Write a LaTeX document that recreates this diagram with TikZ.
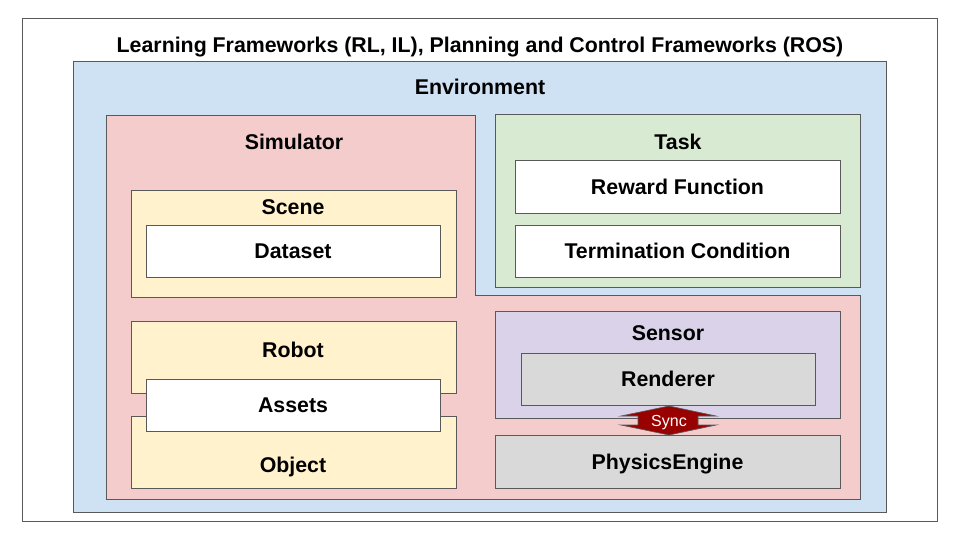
\documentclass[tikz,border=0pt]{standalone}
\usepackage{fontspec}
\setmainfont{Liberation Sans}
\usepackage{xcolor}
\usetikzlibrary{fit, positioning}

\definecolor{linegrey}{HTML}{595959}
\definecolor{envblue}{HTML}{CFE2F3}
\definecolor{simred}{HTML}{F4CCCC}
\definecolor{taskgreen}{HTML}{D9EAD3}
\definecolor{partyellow}{HTML}{FFF2CC}
\definecolor{sensorpurple}{HTML}{D9D2E9}
\definecolor{enginegrey}{HTML}{D9D9D9}
\definecolor{syncred}{HTML}{990000}

\begin{document}
\begin{tikzpicture}[x=0.75pt, y=-0.75pt, font=\fontsize{16}{18}\selectfont\bfseries]
	\tikzstyle{frame} = [draw=linegrey, line width=0.75pt]
	\tikzstyle{box} = [frame, inner sep=0pt, align=center]
	\tikzstyle{heading} = [draw=none, inner sep=0pt, text height=11.5pt, text depth=0pt]

	\useasboundingbox (0,0) rectangle (960,540);

	% containers
	\node[box, fill=white, fit={(22,18) (937,521)}]			(frameworks)	{};
	\node[box, fill=envblue, fit={(73,61) (886,512)}]		(env)		{};
	\draw[frame, fill=simred] (106,115) -- (475,115) -- (475,295) -- (860,295) -- (860,499) -- (106,499) -- cycle;
	\node[box, fill=taskgreen, fit={(495,114) (860,287)}]		(task)		{};
	\node[box, fill=partyellow, fit={(131,190) (456,297)}]		(scene)		{};
	\node[box, fill=partyellow, fit={(131,321) (456,393)}]		(robot)		{};
	\node[box, fill=partyellow, fit={(131,416) (456,488)}]		(object)	{};
	\node[box, fill=sensorpurple, fit={(495,311) (840,418)}]	(sensor)	{};

	% headings
	\node[heading]	at (480, 45)	(frameworkslabel)	{Learning Frameworks (RL, IL), Planning and Control Frameworks (ROS)};
	\node[heading]	at (480, 87)	(envlabel)		{Environment};
	\node[heading]	at (294, 142)	(simlabel)		{Simulator};
	\node[heading]	at (678, 142)	(tasklabel)		{Task};
	\node[heading]	at (293, 207)	(scenelabel)		{Scene};
	\node[heading]	at (293, 350)	(robotlabel)		{Robot};
	\node[heading]	at (293, 465)	(objectlabel)		{Object};
	\node[heading]	at (668, 333)	(sensorlabel)		{Sensor};

	% leaf boxes
	\node[box, fill=white, fit={(515,160) (840,213)}]		(reward)	{};
	\node[box, fill=white, fit={(515,225) (840,277)}]		(termination)	{};
	\node[box, fill=white, fit={(146,225) (440,277)}]		(dataset)	{};
	\node[box, fill=white, fit={(146,379) (440,431)}]		(assets)	{};
	\node[box, fill=enginegrey, fit={(521,353) (815,405)}]		(renderer)	{};
	\node[box, fill=enginegrey, fit={(495,435) (840,488)}]		(physics)	{};

	\node[heading]	at (reward)	(rewardlabel)		{Reward Function};
	\node[heading]	at (termination)	(terminationlabel)	{Termination Condition};
	\node[heading]	at (dataset)	(datasetlabel)		{Dataset};
	\node[heading]	at (assets)	(assetslabel)		{Assets};
	\node[heading]	at (renderer)	(rendererlabel)		{Renderer};
	\node[heading]	at (physics)	(physicslabel)		{PhysicsEngine};

	% sync arrow
	\draw[draw=linegrey, line width=0.5pt, fill=syncred]
		(621,416) -- (669,406) -- (716,416) -- (698,416) -- (698,425) -- (716,425)
		-- (669,435) -- (621,425) -- (638,425) -- (638,416) -- cycle;
	\node[heading, text=white, text height=8.6pt, font=\fontsize{12}{14}\selectfont] at (669,421) (sync) {Sync};
\end{tikzpicture}
\end{document}
